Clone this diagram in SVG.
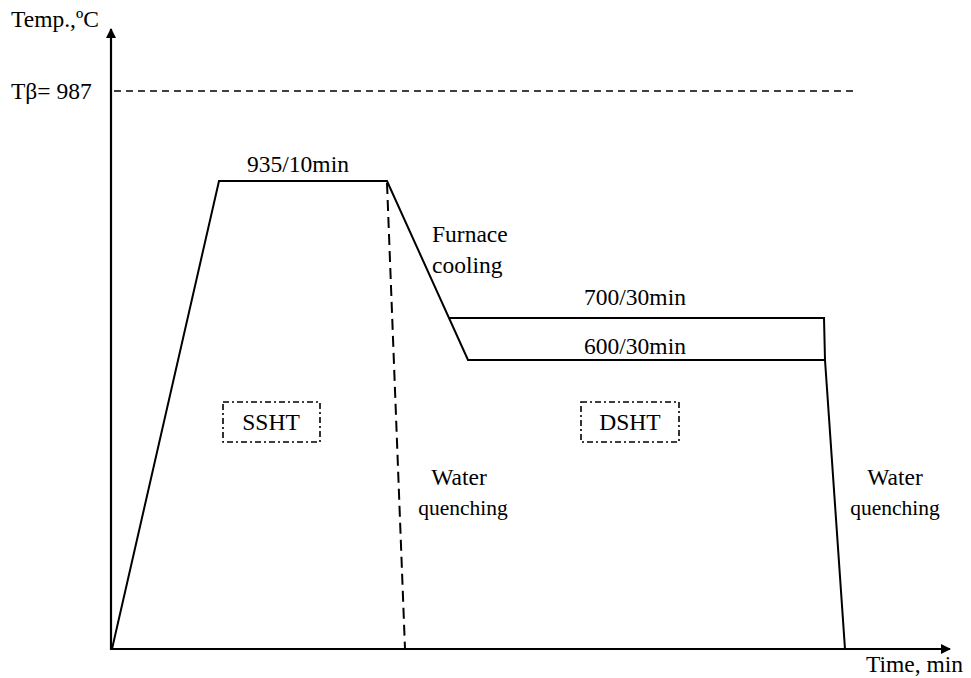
<svg xmlns="http://www.w3.org/2000/svg" width="971" height="678" viewBox="0 0 971 678">
<style>
text{font-family:"Liberation Serif","Times New Roman",serif;font-size:23.5px;fill:#000}
.q{font-size:21.5px}
.ln{fill:none;stroke:#000;stroke-width:2}
.ax{fill:none;stroke:#000;stroke-width:2.2}
.dash{fill:none;stroke:#000;stroke-width:1.6;stroke-dasharray:7,5}
.vdash{fill:none;stroke:#000;stroke-width:2;stroke-dasharray:11,6}
.box{fill:none;stroke:#000;stroke-width:1.6;stroke-dasharray:6,3,2,3}
</style>
<defs>
<marker id="arr" markerWidth="10" markerHeight="10" refX="9" refY="5" orient="auto" markerUnits="userSpaceOnUse">
<path d="M0,0 L10,5 L0,10 Z" fill="#000"/>
</marker>
</defs>
<g id="axes">
<line class="ax" x1="111" y1="650" x2="111" y2="29" marker-end="url(#arr)"/>
<line class="ax" x1="110" y1="649" x2="950" y2="649" marker-end="url(#arr)"/>
<text x="11" y="27">Temp.,ºC</text>
<text x="11" y="99">Tβ= 987</text>
<text x="866" y="672">Time, min</text>
<line class="dash" x1="114" y1="91" x2="858" y2="91"/>
</g>
<g id="connectors">
<polyline class="ln" points="112,649 219,181 387,181 468,360 825,360 845,649"/>
<polyline class="ln" points="449,318 824,318 825,360"/>
<line class="vdash" x1="387" y1="183" x2="405" y2="649"/>
</g>
<g id="labels">
<text x="298" y="172" text-anchor="middle">935/10min</text>
<text x="432" y="242">Furnace</text>
<text x="432" y="273">cooling</text>
<text x="635" y="305" text-anchor="middle">700/30min</text>
<text x="635" y="354" text-anchor="middle">600/30min</text>
<text x="459" y="485" text-anchor="middle">Water</text>
<text class="q" x="463" y="515" text-anchor="middle">quenching</text>
<text x="895" y="485" text-anchor="middle">Water</text>
<text class="q" x="895" y="515" text-anchor="middle">quenching</text>
</g>
<g id="sshtNode">
<rect class="box" x="223" y="402" width="97" height="40"/>
<text x="271" y="430" text-anchor="middle">SSHT</text>
</g>
<g id="dshtNode">
<rect class="box" x="581" y="402" width="98" height="40"/>
<text x="630" y="430" text-anchor="middle">DSHT</text>
</g>
</svg>
